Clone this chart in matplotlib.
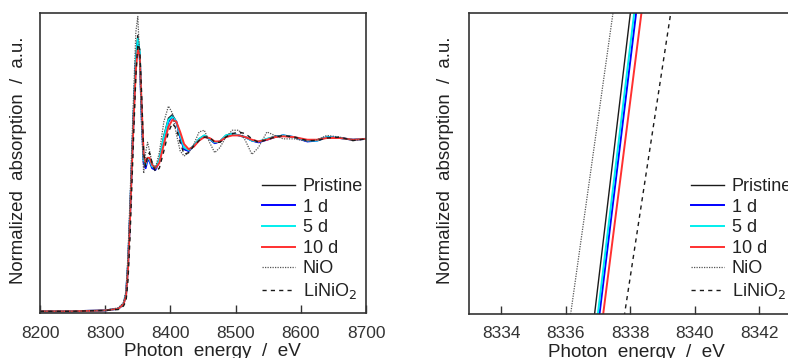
import matplotlib
matplotlib.use("Agg")
import matplotlib.pyplot as plt

plt.rcParams['font.family'] = ['Liberation Sans', 'DejaVu Sans']

# Ni K-edge XANES (normalized absorption)
energy = [8200, 8250, 8300, 8320, 8328, 8332, 8335, 8338, 8341, 8344,
          8347, 8350, 8353, 8356, 8359, 8362, 8365, 8368, 8372, 8377,
          8383, 8390, 8397, 8403, 8409, 8415, 8421, 8428, 8436, 8444,
          8452, 8460, 8468, 8476, 8485, 8495, 8505, 8515, 8525, 8535,
          8548, 8560, 8573, 8590, 8610, 8625, 8640, 8660, 8680, 8700]

pristine = [0.0, 0.0, 0.005, 0.015, 0.04, 0.10, 0.28, 0.56, 0.88, 1.20,
            1.48, 1.60, 1.50, 1.15, 0.88, 0.85, 0.89, 0.88, 0.84, 0.83,
            0.88, 1.02, 1.12, 1.14, 1.10, 1.01, 0.94, 0.93, 0.96, 1.00,
            1.02, 1.00, 0.975, 0.985, 1.02, 1.03, 1.02, 1.01, 0.99, 0.98,
            1.00, 1.015, 1.02, 1.01, 0.99, 0.995, 1.01, 1.005, 0.995, 1.0]

day1 = [0.0, 0.0, 0.005, 0.015, 0.04, 0.10, 0.27, 0.55, 0.87, 1.18,
        1.45, 1.56, 1.48, 1.12, 0.86, 0.83, 0.88, 0.87, 0.83, 0.82,
        0.87, 1.00, 1.10, 1.13, 1.10, 1.01, 0.94, 0.93, 0.96, 0.995,
        1.015, 1.00, 0.975, 0.985, 1.015, 1.03, 1.02, 1.01, 0.99, 0.98,
        0.995, 1.01, 1.02, 1.01, 0.985, 0.99, 1.01, 1.005, 0.995, 1.0]

day5 = [0.0, 0.0, 0.005, 0.015, 0.04, 0.10, 0.27, 0.55, 0.87, 1.19,
        1.46, 1.58, 1.50, 1.15, 0.88, 0.85, 0.89, 0.88, 0.84, 0.83,
        0.88, 1.01, 1.11, 1.13, 1.10, 1.02, 0.95, 0.935, 0.96, 1.00,
        1.02, 1.00, 0.98, 0.985, 1.02, 1.03, 1.02, 1.01, 0.99, 0.985,
        1.00, 1.01, 1.02, 1.01, 0.99, 0.99, 1.01, 1.005, 0.995, 1.0]

day10 = [0.0, 0.0, 0.005, 0.015, 0.04, 0.09, 0.25, 0.53, 0.85, 1.15,
         1.40, 1.52, 1.48, 1.18, 0.91, 0.86, 0.89, 0.89, 0.85, 0.83,
         0.86, 0.97, 1.07, 1.11, 1.10, 1.04, 0.97, 0.94, 0.955, 0.99,
         1.01, 1.005, 0.985, 0.985, 1.01, 1.02, 1.02, 1.01, 0.995, 0.985,
         0.995, 1.01, 1.015, 1.01, 0.995, 0.995, 1.005, 1.005, 0.995, 1.0]

nio = [0.0, 0.0, 0.005, 0.02, 0.05, 0.12, 0.33, 0.65, 0.98, 1.30,
       1.62, 1.71, 1.45, 1.05, 0.80, 0.92, 0.98, 0.93, 0.86, 0.83,
       0.92, 1.10, 1.19, 1.15, 1.03, 0.93, 0.90, 0.92, 0.97, 1.04,
       1.05, 0.98, 0.92, 0.95, 1.01, 1.05, 1.05, 0.99, 0.91, 0.95,
       1.04, 1.02, 1.00, 1.00, 0.985, 0.995, 1.02, 1.01, 0.99, 1.0]

linio2 = [0.0, 0.0, 0.005, 0.01, 0.03, 0.06, 0.18, 0.42, 0.74, 1.06,
          1.36, 1.55, 1.52, 1.25, 0.92, 0.84, 0.90, 0.92, 0.86, 0.81,
          0.83, 0.93, 1.04, 1.09, 1.06, 0.98, 0.91, 0.92, 0.96, 0.99,
          1.01, 1.01, 0.98, 0.98, 1.01, 1.03, 1.04, 1.03, 1.00, 0.98,
          0.995, 1.01, 1.02, 1.01, 0.99, 0.99, 1.005, 1.01, 0.99, 1.0]

# zoom on the edge: two points per curve (absorption 0.44 and 0.57)
edge_y = [0.44, 0.57]
edge_pristine = [8336.79, 8338.10]
edge_day1 = [8336.94, 8338.28]
edge_day5 = [8336.89, 8338.22]
edge_day10 = [8337.05, 8338.45]
edge_nio = [8336.03, 8337.58]
edge_linio2 = [8337.69, 8339.38]

labels = ['Pristine', '1 d', '5 d', '10 d', 'NiO', 'LiNiO$_2$']
styles = [dict(color='#1a1a1a', lw=1.0, ls='-'),
          dict(color='#0000ff', lw=1.4, ls='-'),
          dict(color='#00eeee', lw=1.4, ls='-'),
          dict(color='#ff3030', lw=1.4, ls='-'),
          dict(color='#555555', lw=0.9, ls=(0, (1, 1))),
          dict(color='#1a1a1a', lw=1.0, ls=(0, (3, 3)))]

fig = plt.figure(figsize=(7.88, 3.58), dpi=100)
ax1 = fig.add_axes([40 / 788, 45 / 358, 326 / 788, 300 / 358])
ax2 = fig.add_axes([469 / 788, 44 / 358, 326 / 788, 301 / 358])

full = [pristine, day1, day5, day10, nio, linio2]
for ys, lab, st in zip(full, labels, styles):
    ax1.plot(energy, ys, label=lab, **st)

edges = [edge_pristine, edge_day1, edge_day5, edge_day10, edge_nio, edge_linio2]
for xs, lab, st in zip(edges, labels, styles):
    ax2.plot(xs, edge_y, label=lab, **st)

ax1.set_xlim(8200, 8700)
ax1.set_ylim(-0.01, 1.73)
ax1.set_xticks([8200, 8300, 8400, 8500, 8600, 8700])
ax2.set_xlim(8333, 8343.1)
ax2.set_ylim(0.45, 0.56)
ax2.set_xticks([8334, 8336, 8338, 8340, 8342])

for ax, xc, yc, lx in [(ax1, 0.53, -0.04, 262), (ax2, 0.515, -0.046, 691)]:
    ax.set_yticks([])
    for sp in ax.spines.values():
        sp.set_linewidth(1.2)
        sp.set_color('#333333')
    ax.tick_params(axis='x', direction='in', length=6, width=1, pad=9,
                   labelsize=12.5, colors='#333333')
    ax.set_xlabel('Photon  energy  /  eV', fontsize=13.6, color='#222222')
    ax.set_ylabel('Normalized  absorption  /  a.u.', fontsize=13.4, color='#222222')
    ax.xaxis.set_label_coords(xc, -0.1)
    ax.yaxis.set_label_coords(yc, 0.51)
    ax.legend(loc='upper left', bbox_to_anchor=(lx / 788, 1 - 178 / 358),
              bbox_transform=fig.transFigure, frameon=False, fontsize=13,
              borderpad=0, borderaxespad=0, handlelength=1.85,
              handletextpad=0.42, labelspacing=0.2, labelcolor='#222222')

fig.savefig('out.png', dpi=100)
